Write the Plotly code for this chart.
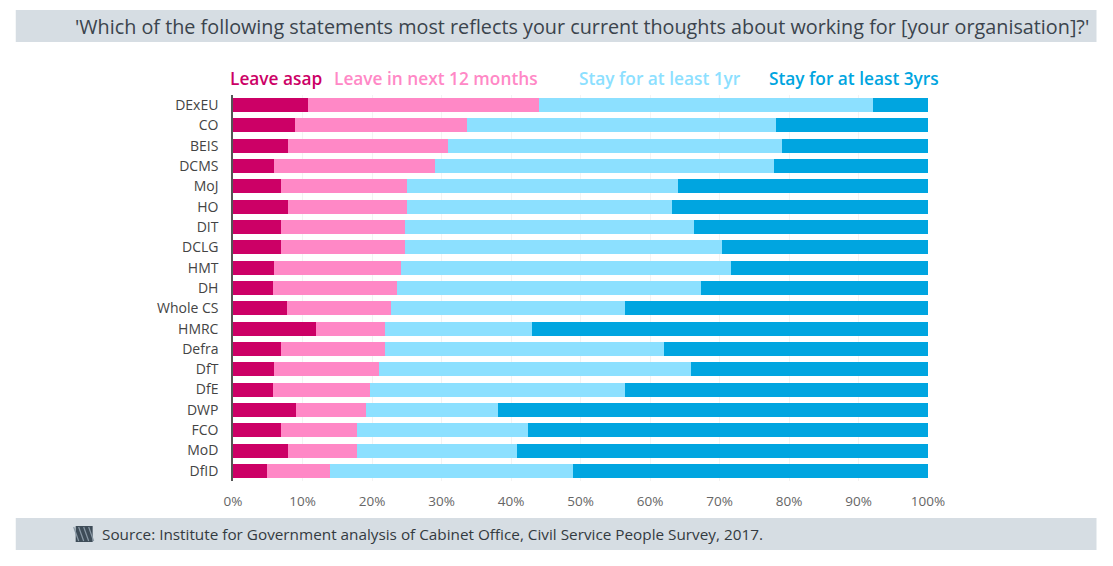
import plotly.graph_objects as go

departments = ["DExEU", "CO", "BEIS", "DCMS", "MoJ", "HO", "DIT", "DCLG", "HMT", "DH",
               "Whole CS", "HMRC", "Defra", "DfT", "DfE", "DWP", "FCO", "MoD", "DfID"]
leave_asap = [10.8, 8.9, 7.9, 5.9, 6.9, 7.9, 6.9, 6.9, 5.9, 5.8,
              7.8, 11.9, 6.9, 5.9, 5.8, 9.0, 6.9, 7.9, 4.9]
leave_12m = [33.2, 24.7, 23.1, 23.2, 18.1, 17.1, 17.9, 17.9, 18.2, 17.8,
             14.9, 10.0, 15.0, 15.1, 13.9, 10.1, 10.9, 10.0, 9.0]
stay_1yr = [48.1, 44.6, 48.0, 48.8, 39.0, 38.1, 41.5, 45.5, 47.5, 43.7,
            33.7, 21.1, 40.1, 44.9, 36.7, 19.1, 24.7, 23.0, 35.0]
stay_3yrs = [7.9, 21.8, 21.0, 22.1, 36.0, 36.9, 33.7, 29.7, 28.4, 32.7,
             43.6, 57.0, 38.0, 34.1, 43.6, 61.8, 57.5, 59.1, 51.1]
series_names = ["Leave asap", "Leave in next 12 months", "Stay for at least 1yr", "Stay for at least 3yrs"]
series_colors = ["#cc0066", "#ff88c6", "#8ce0ff", "#00a5e0"]
x_ticks = [0, 10, 20, 30, 40, 50, 60, 70, 80, 90, 100]
x_tick_labels = [f"{v}%" for v in x_ticks]

title_text = "'Which of the following statements most reflects your current thoughts about working for [your organisation]?'"
source_text = "Source: Institute for Government analysis of Cabinet Office, Civil Service People Survey, 2017."

# page body has an 8px margin; figure is sized to fit the window inside it
OFF = 8
FW, FH = 1113 - 2 * OFF, 566 - 2 * OFF
ML, MR, MT, MB = 224.5, 176.7, 87, 77
PW, PH = FW - ML - MR, FH - MT - MB
FONT = "Open Sans"


def px(x):
    """reference-window pixel x -> paper x"""
    return ((x - OFF) - ML) / PW


def py(y):
    """reference-window pixel y -> paper y"""
    return (FH - MB - (y - OFF)) / PH


fig = go.Figure()
for name, vals, col in zip(series_names, [leave_asap, leave_12m, stay_1yr, stay_3yrs], series_colors):
    fig.add_trace(go.Bar(y=departments, x=vals, name=name, orientation="h",
                         marker=dict(color=col, line=dict(width=0)), showlegend=False))

shapes = [
    dict(type="rect", xref="paper", yref="paper", x0=px(15), x1=px(1097), y0=py(42), y1=py(10),
         fillcolor="#d6dde3", line=dict(width=0), layer="below"),
    dict(type="rect", xref="paper", yref="paper", x0=px(15), x1=px(1097), y0=py(550), y1=py(518),
         fillcolor="#d6dde3", line=dict(width=0), layer="below"),
    dict(type="rect", xref="paper", yref="paper", x0=px(75), x1=px(92), y0=py(542), y1=py(526),
         fillcolor="#3e4c58", line=dict(width=0)),
]
for k in range(4):
    x0 = 75 + k * 5
    shapes.append(dict(type="line", xref="paper", yref="paper",
                       x0=px(x0 - 2), y0=py(527), x1=px(x0 + 3), y1=py(541),
                       line=dict(color="#8a99a6", width=1.2)))

annotations = [
    dict(text=title_text, xref="paper", yref="paper", x=px(1091), y=py(26), xanchor="right",
         yanchor="middle", showarrow=False, font=dict(family=FONT, size=19.8, color="#3b444d")),
    dict(text=source_text, xref="paper", yref="paper", x=px(99), y=py(534), xanchor="left",
         yanchor="middle", showarrow=False, font=dict(family=FONT, size=15.3, color="#333a40")),
]
legend_x = [227, 332, 577, 767]
for name, col, lx in zip(series_names, series_colors, legend_x):
    annotations.append(dict(text=name, xref="paper", yref="paper",
                            x=px(lx), y=py(78), xanchor="left", yanchor="middle", showarrow=False,
                            font=dict(family=FONT, size=17.3, color=col, weight=600)))

fig.update_layout(
    barmode="stack",
    bargap=0.31,
    width=FW, height=FH,
    margin=dict(l=ML, r=MR, t=MT, b=MB, pad=0, autoexpand=False),
    paper_bgcolor="white", plot_bgcolor="white",
    font=dict(family=FONT, color="#444"),
    shapes=shapes,
    annotations=annotations,
    xaxis=dict(range=[0, 100], tickvals=x_ticks, ticktext=x_tick_labels, showgrid=True,
               gridcolor="#f3f3f3", gridwidth=1, zeroline=False, showline=False,
               tickfont=dict(size=13.5, color="#666"), ticks="", ticklabelstandoff=10, fixedrange=True),
    yaxis=dict(categoryorder="array", categoryarray=departments[::-1], autorange=False,
               range=[-0.5, 18.5], showline=True, linecolor="#555", linewidth=1.5,
               ticks="", ticklabelstandoff=10, tickfont=dict(size=14, color="#444"), showgrid=False),
)

fig.write_html("out.html")
